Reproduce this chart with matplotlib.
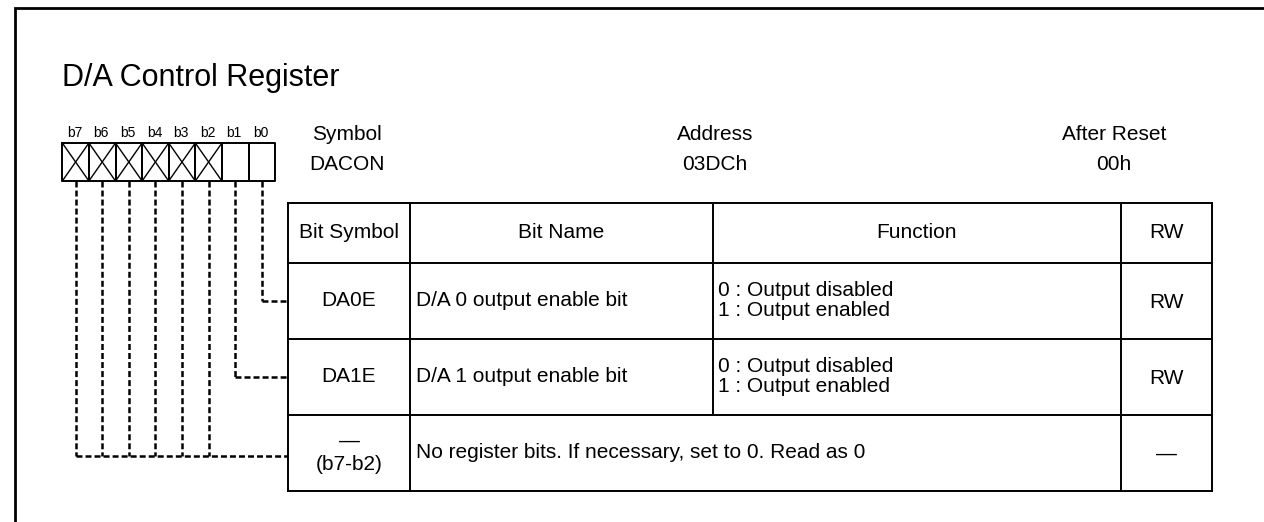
import matplotlib
matplotlib.use("Agg")
import matplotlib.pyplot as plt

# register data
title = "D/A Control Register"
bits = ["b7", "b6", "b5", "b4", "b3", "b2", "b1", "b0"]
reserved = [True, True, True, True, True, True, False, False]
reg_info = [("Symbol", "DACON"), ("Address", "03DCh"), ("After Reset", "00h")]

headers = ["Bit Symbol", "Bit Name", "Function", "RW"]
bit_symbols = ["DA0E", "DA1E", "(b7-b2)"]
bit_names = ["D/A 0 output enable bit", "D/A 1 output enable bit",
             "No register bits. If necessary, set to 0. Read as 0"]
functions = [["0 : Output disabled", "1 : Output enabled"],
             ["0 : Output disabled", "1 : Output enabled"],
             None]
rw = ["RW", "RW", "\u2014"]
row_bits = [["b0"], ["b1"], ["b7", "b6", "b5", "b4", "b3", "b2"]]

# layout (pixels, y down)
W, H = 1264, 522
box_x0, box_w, box_y0, box_y1 = 62.3, 26.6, 143, 181
col_x = [288, 410, 713, 1121, 1212]
row_y = [203, 263, 339, 415, 491]
info_x = [347, 715, 1114]

plt.rcParams["font.family"] = ["Liberation Sans", "DejaVu Sans"]
plt.rcParams["lines.scale_dashes"] = False

fig = plt.figure(figsize=(W / 100, H / 100), dpi=100)
ax = fig.add_axes([0, 0, 1, 1])
ax.set_xlim(0, W)
ax.set_ylim(H, 0)
ax.axis("off")

fs = 15
k = dict(color="black", lw=1.4, solid_capstyle="projecting")
dash = dict(color="black", lw=1.8, ls=(0, (4.3, 2.2)))

# outer frame (cropped)
ax.plot([15, 15, W + 5], [H + 5, 8, 8], color="black", lw=2, solid_joinstyle="miter")

ax.text(62, 78, title, fontsize=22, va="center", ha="left")

# bit boxes
centers = {}
for i, (b, r) in enumerate(zip(bits, reserved)):
    x0 = box_x0 + i * box_w
    x1 = x0 + box_w
    cx = (x0 + x1) / 2
    centers[b] = cx
    ax.plot([x0, x1, x1, x0, x0], [box_y0, box_y0, box_y1, box_y1, box_y0], **k)
    if r:
        ax.plot([x0, x1], [box_y0, box_y1], color="black", lw=1.0)
        ax.plot([x0, x1], [box_y1, box_y0], color="black", lw=1.0)
    ax.text(cx - 1, 133, b, fontsize=10, ha="center", va="center")

for (lab, val), x in zip(reg_info, info_x):
    ax.text(x, 135, lab, fontsize=fs, ha="center", va="center")
    ax.text(x, 165, val, fontsize=fs, ha="center", va="center")

# table grid
for y in row_y:
    ax.plot([col_x[0], col_x[-1]], [y, y], **k)
for j, x in enumerate(col_x):
    y_end = row_y[-2] if j == 2 else row_y[-1]
    ax.plot([x, x], [row_y[0], y_end], **k)

# header
for j, h in enumerate(headers):
    cx = (col_x[j] + col_x[j + 1]) / 2
    ax.text(cx, (row_y[0] + row_y[1]) / 2, h, fontsize=fs, ha="center", va="center")

# rows
for i in range(len(bit_symbols)):
    yc = (row_y[i + 1] + row_y[i + 2]) / 2
    cx0 = (col_x[0] + col_x[1]) / 2
    if reserved[bits.index(row_bits[i][0])]:
        ax.text(cx0, yc - 12, "\u2014", fontsize=fs, ha="center", va="center")
        ax.text(cx0, yc + 11, bit_symbols[i], fontsize=fs, ha="center", va="center")
    else:
        ax.text(cx0, yc, bit_symbols[i], fontsize=fs, ha="center", va="center")
    ax.text(col_x[1] + 6, yc - 1, bit_names[i], fontsize=fs, ha="left", va="center")
    if functions[i] is not None:
        ax.text(col_x[2] + 5, yc - 11, functions[i][0], fontsize=fs, ha="left", va="center")
        ax.text(col_x[2] + 5, yc + 9, functions[i][1], fontsize=fs, ha="left", va="center")
    ax.text((col_x[3] + col_x[4]) / 2, yc + 1, rw[i], fontsize=fs, ha="center", va="center")

    # dashed connectors from the bit boxes to the table rows
    ly = yc + (3 if len(row_bits[i]) > 1 else 0)
    xs = [centers[b] for b in row_bits[i]]
    for x in xs:
        ax.plot([x, x], [box_y1, ly], **dash)
    ax.plot([min(xs), col_x[0]], [ly, ly], **dash)

fig.savefig("out.png", dpi=100)
